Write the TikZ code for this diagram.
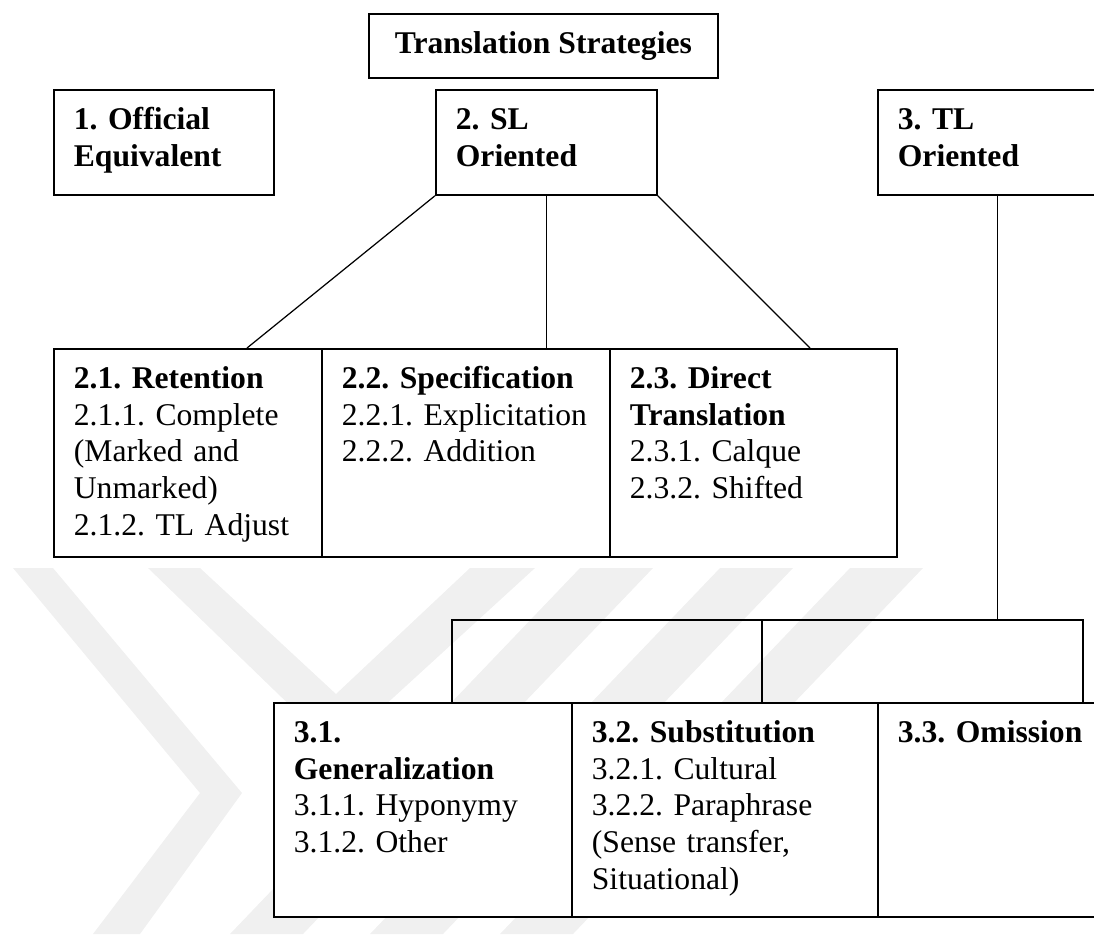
\documentclass[tikz,border=0pt]{standalone}
\usepackage{fontspec}
\setmainfont{Liberation Serif}
\frenchspacing
\hyphenpenalty=10000
\tikzstyle{cell}=[%
	draw, fill=white, line width=1pt, anchor=north west,
	inner xsep=0.4cm, inner ysep=0pt, align=left, text height=0.8cm
]
\tikzstyle{link}=[line width=0.7pt]
\tikzstyle{stamp}=[fill=gray!12, draw=none]

\begin{document}
\begin{tikzpicture}[x=0.02cm, y=-0.02cm, every node/.style={font=\fontsize{18}{20.8}\selectfont}]
	\useasboundingbox (0,0) rectangle (1094,934);
	\clip (0,0) rectangle (1094,934);

	% faint watermark behind the boxes
	\fill[stamp] (13,568) -- (53,568) -- (242,793) -- (140,934) -- (93,934) -- (200,793) -- cycle;
	\fill[stamp] (148,568) -- (200,568) -- (336,694) -- (470,568) -- (535,568) -- (336,750) -- cycle;
	\foreach \x in {580,720,850} {
		\fill[stamp] (\x,568) -- (\x+73,568) -- (\x-277,934) -- (\x-350,934) -- cycle;
	}

	\node[draw, fill=white, line width=1pt, anchor=north west, inner sep=0pt,
		minimum width=6.98cm, minimum height=1.28cm] (top) at (368,13) {\textbf{Translation Strategies}};

	\node[cell, text width=3.6cm, text depth=1.3cm] (off) at (53,89) {\textbf{1. Official}\\\textbf{Equivalent}};
	\node[cell, text width=3.62cm, text depth=1.3cm] (sl) at (435,89) {\textbf{2. SL}\\\textbf{Oriented}};
	\node[cell, text width=4cm, text depth=1.3cm] (tl) at (877,89) {\textbf{3. TL}\\\textbf{Oriented}};

	\node[cell, text width=4.56cm, text depth=3.36cm] (ret) at (53,348) {\textbf{2.1. Retention}\\2.1.1. Complete\\(Marked and\\Unmarked)\\2.1.2. TL Adjust};
	\node[cell, text width=4.96cm, text depth=3.36cm] (spe) at (321,348) {\textbf{2.2. Specification}\\2.2.1. Explicitation\\2.2.2. Addition};
	\node[cell, text width=4.94cm, text depth=3.36cm] (dir) at (609,348) {\textbf{2.3. Direct}\\\textbf{Translation}\\2.3.1. Calque\\2.3.2. Shifted};

	\node[cell, text width=5.16cm, text depth=3.48cm] (gen) at (273,702) {\textbf{3.1.}\\\textbf{Generalization}\\3.1.1. Hyponymy\\3.1.2. Other};
	\node[cell, text width=5.32cm, text depth=3.48cm] (sub) at (571,702) {\textbf{3.2. Substitution}\\3.2.1. Cultural\\3.2.2. Paraphrase\\(Sense transfer,\\Situational)};
	\node[cell, text width=4cm, text depth=3.48cm] (omi) at (877,702) {\textbf{3.3. Omission}};

	\draw[link] (sl.south west) -- (247,0 |- ret.north);
	\draw[link] (sl.south) -- (sl.south |- spe.north);
	\draw[link] (sl.south east) -- (810,0 |- dir.north);

	\coordinate (fork) at (tl.south |- 0,620);
	\coordinate (b1) at (452,620);
	\coordinate (b2) at (762,620);
	\coordinate (b3) at (1083,620);
	\draw[link] (tl.south) -- (fork);
	\draw[link] (b1 |- gen.north) -- (b1) -- (b3) -- (b3 |- omi.north);
	\draw[link] (b2) -- (b2 |- sub.north);
\end{tikzpicture}
\end{document}
